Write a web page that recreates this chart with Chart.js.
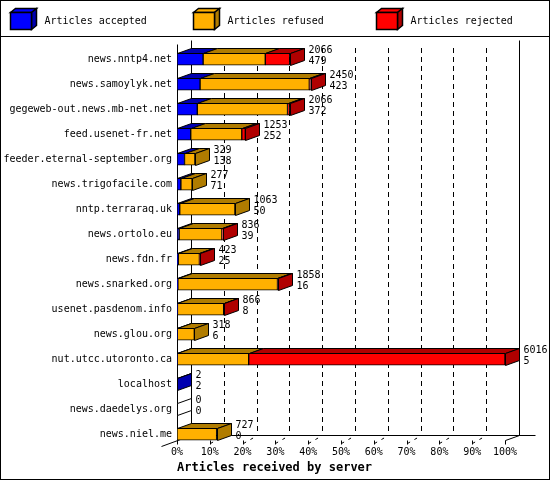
<!DOCTYPE html>
<html>
<head>
<meta charset="utf-8">
<script src="https://cdn.jsdelivr.net/npm/chart.js@4.4.1/dist/chart.umd.min.js"></script>
<style>
  html, body { margin: 0; padding: 0; background: #ffffff; }
  canvas { display: block; }
</style>
</head>
<body>
<canvas id="c" width="550" height="480"></canvas>
<script>
const categories = ['news.nntp4.net','news.samoylyk.net','gegeweb-out.news.mb-net.net','feed.usenet-fr.net',
  'feeder.eternal-september.org','news.trigofacile.com','nntp.terraraq.uk','news.ortolo.eu','news.fdn.fr',
  'news.snarked.org','usenet.pasdenom.info','news.glou.org','nut.utcc.utoronto.ca','localhost',
  'news.daedelys.org','news.niel.me'];
const totals   = [2066, 2450, 2066, 1253, 329, 277, 1063, 836, 423, 1858, 866, 318, 6016, 2, 0, 727];
const accepted = [479, 423, 372, 252, 138, 71, 50, 39, 25, 16, 8, 6, 5, 2, 0, 0];
const refused  = [1140, 2004, 1655, 936, 191, 206, 1013, 785, 386, 1827, 848, 312, 1310, 0, 0, 727];
const rejected = [447, 23, 39, 65, 0, 0, 0, 12, 12, 15, 10, 0, 4701, 0, 0, 0];
const tickLabels = ['0%','10%','20%','30%','40%','50%','60%','70%','80%','90%','100%'];
const seriesNames = ['Articles accepted', 'Articles refused', 'Articles rejected'];
const axisTitle = 'Articles received by server';

const frontColors = ['#0000ff', '#ffb000', '#ff0000'];
const darkColors  = ['#0000b0', '#b07c00', '#b00000'];

const maxTotal = Math.max(...totals);
const pct = arr => arr.map(v => v / maxTotal * 100);

const FONT = '"DejaVu Sans Mono", "Liberation Mono", monospace';
const DX = 14, DY = 5;

function poly(ctx, pts, fill) {
  ctx.beginPath();
  ctx.moveTo(pts[0][0], pts[0][1]);
  for (let i = 1; i < pts.length; i++) ctx.lineTo(pts[i][0], pts[i][1]);
  ctx.closePath();
  ctx.fillStyle = fill;
  ctx.fill();
  ctx.strokeStyle = '#000';
  ctx.lineWidth = 1;
  ctx.stroke();
}
function line(ctx, x1, y1, x2, y2, dash) {
  ctx.beginPath();
  ctx.setLineDash(dash || []);
  ctx.moveTo(x1, y1); ctx.lineTo(x2, y2);
  ctx.strokeStyle = '#000'; ctx.lineWidth = 1;
  ctx.stroke();
  ctx.setLineDash([]);
}

const deco = {
  id: 'deco',
  beforeDraw(chart) {
    const ctx = chart.ctx;
    ctx.save();
    ctx.fillStyle = '#fff';
    ctx.fillRect(0, 0, chart.width, chart.height);
    ctx.restore();
  },
  beforeDatasetsDraw(chart) {
    const ctx = chart.ctx, xs = chart.scales.x, ca = chart.chartArea;
    ctx.save();
    const x0 = Math.round(xs.getPixelForValue(0)) + 0.5;
    const x100 = Math.round(xs.getPixelForValue(100)) + 0.5;
    const floorFront = Math.round(ca.bottom - 6.7) + 0.5;
    const floorBack = floorFront - DY;
    const topBack = 40.5, topFront = 44.5;
    // dashed back grid lines
    for (let k = 1; k < 10; k++) {
      const xb = Math.round(xs.getPixelForValue(k * 10)) + DX + 0.5;
      line(ctx, xb, 48, xb, floorBack, [5, 4]);
    }
    // back wall & floor
    line(ctx, x0 + DX, topBack, x0 + DX, floorBack);
    line(ctx, x100 + DX, topBack, x100 + DX, floorBack);
    line(ctx, x0 + DX, floorBack, x100 + DX + 16, floorBack);
    line(ctx, x0, topFront, x0, floorFront);
    line(ctx, x0 - 16, floorFront + 6, x0 + DX, floorBack);
    line(ctx, x100, floorFront, x100 + DX, floorBack);
    // front ticks
    for (let k = 0; k <= 10; k++) {
      const xf = Math.round(xs.getPixelForValue(k * 10)) + 0.5;
      line(ctx, xf, floorFront, xf, floorFront + 4);
      if (k > 0 && k < 10) line(ctx, xf, floorFront + 3, xf + DX, floorBack, [3, 5]);
    }
    ctx.restore();
  },
  afterDatasetsDraw(chart) {
    const ctx = chart.ctx;
    const metas = [0, 1, 2].map(d => chart.getDatasetMeta(d));
    const series = [accepted, refused, rejected];
    ctx.save();
    for (let i = 0; i < categories.length; i++) {
      const b0 = metas[0].data[i];
      const top = Math.round(b0.y - b0.height / 2) + 0.5;
      const bot = top + b0.height;
      let last = -1;
      let xe = Math.round(b0.base) + 0.5;
      for (let d = 0; d < 3; d++) {
        if (series[d][i] > 0) {
          const el = metas[d].data[i];
          const xa = Math.round(Math.min(el.base, el.x)) + 0.5;
          const xb = Math.round(Math.max(el.base, el.x)) + 0.5;
          poly(ctx, [[xa, top], [xa + DX, top - DY], [xb + DX, top - DY], [xb, top]], darkColors[d]);
          last = d; xe = xb;
        }
      }
      poly(ctx, [[xe, top], [xe + DX, top - DY], [xe + DX, bot - DY], [xe, bot]],
           last >= 0 ? darkColors[last] : '#ffffff');
      // value labels
      ctx.fillStyle = '#000';
      ctx.font = '10px ' + FONT;
      ctx.textAlign = 'left';
      ctx.textBaseline = 'middle';
      ctx.fillText(String(totals[i]), xe + DX + 4, b0.y - 9);
      ctx.fillText(String(accepted[i]), xe + DX + 4, b0.y + 2);
    }
    ctx.restore();
  },
  afterDraw(chart) {
    const ctx = chart.ctx;
    ctx.save();
    // frame
    ctx.strokeStyle = '#000'; ctx.lineWidth = 1;
    ctx.strokeRect(0.5, 0.5, chart.width - 1, chart.height - 1);
    line(ctx, 0, 36.5, chart.width, 36.5);
    // legend
    const lx = [10, 193, 376];
    for (let d = 0; d < 3; d++) {
      const x = lx[d] + 0.5, y = 12.5, w = 21, h = 17;
      ctx.lineWidth = 1.5;
      const p = (pts, f) => {
        ctx.beginPath(); ctx.moveTo(pts[0][0], pts[0][1]);
        for (let j = 1; j < pts.length; j++) ctx.lineTo(pts[j][0], pts[j][1]);
        ctx.closePath(); ctx.fillStyle = f; ctx.fill(); ctx.strokeStyle = '#000'; ctx.lineWidth = 1.5; ctx.stroke();
      };
      p([[x, y], [x + 5, y - 4], [x + w + 5, y - 4], [x + w, y]], frontColors[d]);
      p([[x + w, y], [x + w + 5, y - 4], [x + w + 5, y + h - 4], [x + w, y + h]], darkColors[d]);
      p([[x, y], [x + w, y], [x + w, y + h], [x, y + h]], frontColors[d]);
      ctx.fillStyle = '#000';
      ctx.font = '10px ' + FONT;
      ctx.textAlign = 'left';
      ctx.textBaseline = 'middle';
      ctx.fillText(chart.data.datasets[d].label, lx[d] + 34.5, 21);
    }
    ctx.restore();
  }
};

const datasets = [accepted, refused, rejected].map((arr, d) => ({
  label: seriesNames[d],
  data: pct(arr),
  backgroundColor: frontColors[d],
  borderColor: '#000000',
  borderWidth: 1,
  borderSkipped: false,
  barThickness: 12
}));

new Chart(document.getElementById('c'), {
  type: 'bar',
  data: { labels: categories, datasets },
  options: {
    indexAxis: 'y',
    responsive: false,
    animation: false,
    devicePixelRatio: 1,
    layout: { padding: { top: 46.7, right: 45, left: 0, bottom: 0 } },
    plugins: { legend: { display: false }, tooltip: { enabled: false } },
    scales: {
      x: {
        stacked: true,
        min: 0, max: 100,
        grid: { display: false, drawTicks: false },
        border: { display: false },
        ticks: {
          stepSize: 10,
          padding: 0,
          maxRotation: 0,
          autoSkip: false,
          color: '#000',
          font: { family: FONT, size: 10 },
          callback: (v, i) => tickLabels[i]
        },
        title: {
          display: true,
          text: axisTitle,
          align: 'start',
          color: '#000',
          font: { family: FONT, size: 12, weight: 'bold' },
          padding: { top: 0, bottom: 5 }
        },
        afterFit: s => { s.height = 33.3; }
      },
      y: {
        stacked: true,
        grid: { display: false, drawTicks: false },
        border: { display: false },
        ticks: {
          padding: 5,
          autoSkip: false,
          color: '#000',
          font: { family: FONT, size: 10 }
        },
        afterFit: s => { s.width = 177; }
      }
    }
  },
  plugins: [deco]
});
</script>
</body>
</html>
